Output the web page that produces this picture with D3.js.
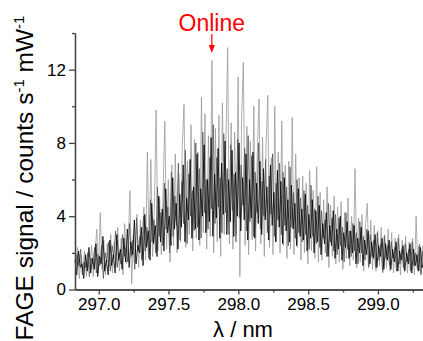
<!DOCTYPE html>
<html><head><meta charset="utf-8">
<script src="https://cdn.jsdelivr.net/npm/d3@7"></script>
<style>body{margin:0;background:#fff}svg{display:block}text{font-family:"Liberation Sans",Arial,sans-serif}</style>
</head><body><svg id="c" width="423" height="341"></svg>
<script>
// wavelength grid (nm) of each scan: start and step
const scanAStart = 296.830, scanCStart = 296.833, scanBStart = 296.836, scanStep = 0.0125;
// FAGE signal (counts s-1 mW-1), scan A (dense core)
const scanA = [
1.6,0.8,2.1,1.2,1.4,0.6,1.9,1.0,2.3,0.9,
1.7,1.1,2.5,0.7,1.8,1.4,2.9,1.0,1.6,0.8,
2.7,1.3,1.9,0.9,3.0,1.6,2.2,1.1,2.8,1.5,
3.3,1.2,2.6,1.9,3.8,1.4,2.4,2.0,3.4,1.3,
4.1,2.3,3.2,1.6,4.7,2.5,3.5,1.8,5.1,2.6,
4.4,2.1,5.5,3.1,4.0,2.4,6.1,3.3,4.7,2.2,
5.2,3.4,6.8,2.6,5.0,3.8,7.1,2.8,5.6,3.3,
7.4,2.7,5.5,4.0,7.9,3.1,6.0,3.7,8.3,2.9,
6.3,3.9,7.7,2.8,6.9,4.1,8.1,3.0,6.0,3.7,
7.6,2.9,6.4,4.0,8.0,3.2,6.1,3.8,7.4,2.7,
6.0,3.9,7.5,2.8,5.8,3.6,7.0,3.0,6.6,3.8,
5.6,2.7,6.8,3.5,5.3,2.6,6.5,3.4,5.9,2.5,
6.1,3.2,4.9,2.6,5.7,3.3,4.7,2.4,5.5,2.9,
4.4,2.7,5.2,2.1,4.1,2.8,4.9,2.0,4.3,2.6,
4.6,1.9,3.6,2.5,4.2,1.8,3.5,2.4,4.3,1.7,
3.3,2.2,4.0,1.6,3.1,2.3,3.7,1.7,3.2,2.0,
3.5,1.4,2.8,2.0,3.4,1.3,2.7,1.9,3.2,1.4,
2.6,1.7,3.0,1.2,2.4,1.8,2.8,1.1,2.5,1.6,
2.7,1.1,2.2,1.5,2.6,1.0,2.1,1.6,2.4,1.0,
2.0,1.4,2.5,0.9,2.2,1.3,1.9,1.0,2.3,1.2,
1.5];
// scan C (medium)
const scanC = [
0.9,1.9,1.3,2.2,0.8,1.5,1.2,2.0,0.7,1.7,
1.4,2.3,0.9,1.9,1.3,2.4,0.6,2.0,1.5,2.6,
1.0,2.4,1.7,3.2,1.2,2.0,1.4,3.0,1.8,2.3,
1.5,3.6,1.8,2.7,1.1,3.9,2.1,2.9,1.6,4.0,
2.1,3.4,1.7,4.9,2.6,3.8,2.0,5.6,2.9,4.2,
2.4,5.8,3.3,4.5,2.0,6.4,2.9,5.1,3.5,6.9,
2.7,5.9,3.6,7.6,2.5,6.3,4.0,5.4,3.2,8.0,
3.4,6.6,2.8,8.6,4.2,6.0,3.3,7.2,4.4,9.0,
3.6,7.2,4.5,6.1,3.1,8.5,4.2,6.6,3.0,7.9,
4.3,6.3,2.6,8.2,3.9,6.8,4.6,7.7,3.2,8.4,
3.7,7.3,2.9,6.4,4.2,8.0,3.3,5.9,4.0,7.1,
3.1,6.2,4.1,7.4,2.9,5.8,3.8,6.9,3.0,6.4,
3.5,5.6,2.4,6.7,3.4,5.3,2.8,6.0,3.1,5.0,
2.6,5.4,3.0,4.6,2.2,5.7,2.9,4.4,2.5,5.1,
2.3,4.3,2.8,3.8,1.8,4.7,2.6,3.9,2.1,4.1,
1.9,3.9,2.4,3.4,1.5,4.2,2.2,3.2,1.8,3.6,
2.1,3.1,1.4,3.7,2.0,2.9,1.6,3.3,1.2,3.0,
1.8,2.7,1.2,3.1,1.6,2.5,1.0,2.9,1.7,2.4,
1.3,2.6,1.7,2.3,1.0,2.8,1.4,2.2,1.2,2.5,
1.5,2.2,1.0,2.6,1.3,2.0,1.1,2.4,0.8,2.1,
1.6];
// scan B (spikier)
const scanB = [
1.2,2.3,0.6,1.9,1.0,2.1,0.7,1.6,1.1,2.4,
0.7,2.0,3.3,0.9,4.2,1.1,2.7,0.8,2.5,1.2,
3.0,0.9,2.6,1.3,3.4,1.0,2.8,0.8,3.6,1.4,
2.5,5.4,0.3,3.0,1.5,4.1,1.2,3.8,1.7,4.5,
1.6,7.5,2.0,7.1,1.8,4.4,9.8,2.1,5.0,1.9,
5.3,9.2,2.2,6.0,1.5,6.8,2.4,7.4,2.0,6.3,
2.6,7.8,10.1,2.3,7.0,3.0,9.0,2.1,8.2,2.8,
7.5,2.4,10.5,3.1,9.6,2.2,8.4,2.9,12.5,2.0,
8.8,2.6,9.5,1.8,10.2,3.0,8.0,13.2,2.5,9.1,
2.2,8.6,3.0,11.6,0.7,9.4,12.4,2.4,8.9,1.9,
8.1,2.7,10.0,2.1,7.6,10.4,2.5,8.3,1.8,7.9,
10.6,2.3,7.2,1.9,10.0,2.6,7.5,2.0,9.2,2.4,
6.8,1.7,7.0,2.2,9.4,1.9,7.4,2.3,6.1,1.6,
6.2,2.0,5.8,1.4,6.5,2.1,5.4,1.7,6.7,1.5,
5.3,1.6,4.9,2.0,5.6,1.2,4.6,1.8,5.1,1.4,
4.5,1.5,4.8,1.1,4.2,1.7,5.0,1.3,4.0,1.6,
6.6,1.2,3.9,1.5,4.1,1.0,3.6,4.7,1.3,3.8,
1.1,3.5,1.0,3.2,1.3,3.4,0.9,3.0,1.2,3.3,
1.0,3.1,0.9,2.8,1.2,3.0,0.8,2.7,1.1,2.9,
0.9,2.6,1.1,2.8,0.8,4.0,1.0,2.5,0.9,2.4,
1.3];
const xTicks = [297.0, 297.5, 298.0, 298.5, 299.0];
const xMinor = [297.25, 297.75, 298.25, 298.75, 299.25];
const yTicks = [0, 4, 8, 12];
const yMinor = [2, 6, 10, 14];
const onlineWavelength = 297.81;

const svg = d3.select('#c');
const x = d3.scaleLinear().domain([296.83, 299.33]).range([75, 424]);
const y = d3.scaleLinear().domain([0, 14]).range([289.5, 33]);
const axisColor = '#444';

const line = (start) => d3.line().x((d,i)=>x(start + i*scanStep)).y(d=>y(d));
svg.append('path').datum(scanB).attr('d', line(scanBStart)).attr('fill','none').attr('stroke','#9a9a9a').attr('stroke-width',0.8);
svg.append('path').datum(scanC).attr('d', line(scanCStart)).attr('fill','none').attr('stroke','#555').attr('stroke-width',0.8);
svg.append('path').datum(scanA).attr('d', line(scanAStart)).attr('fill','none').attr('stroke','#000').attr('stroke-width',0.8);

// x axis
const gx = svg.append('g').attr('transform','translate(0,289.5)');
gx.call(d3.axisBottom(x).tickValues(xTicks).tickFormat(d3.format('.1f')).tickSize(5).tickSizeOuter(0));
svg.append('g').attr('transform','translate(0,289.5)').call(d3.axisBottom(x).tickValues(xMinor).tickFormat('').tickSize(3).tickSizeOuter(0));
// y axis
const gy = svg.append('g').attr('transform','translate(75,0)');
gy.call(d3.axisLeft(y).tickValues(yTicks).tickFormat(d3.format('d')).tickSize(6).tickSizeOuter(0));
svg.append('g').attr('transform','translate(75,0)').call(d3.axisLeft(y).tickValues(yMinor).tickFormat('').tickSize(3).tickSizeOuter(0));

svg.selectAll('.domain').attr('stroke', axisColor).attr('stroke-width', 1.3);
svg.selectAll('.tick line').attr('stroke', axisColor).attr('stroke-width', 1.3);
svg.selectAll('.tick text').attr('fill','#000').style('font-size','17px').style('font-family','"Liberation Sans", Arial, sans-serif');
gx.selectAll('.tick text').attr('dy','0.9em').attr('y',5);
gy.selectAll('.tick text').attr('x',-9);

// labels
svg.append('text').attr('x',243).attr('y',336.5).attr('text-anchor','middle').style('font-size','22px').text('λ / nm');
const yl = svg.append('text').attr('transform','translate(33,178) rotate(-90)').attr('text-anchor','middle').style('font-size','24.5px');
yl.append('tspan').text('FAGE signal / counts s');
yl.append('tspan').attr('dy',-9).style('font-size','15px').text('-1');
yl.append('tspan').attr('dy',9).text(' mW');
yl.append('tspan').attr('dy',-9).style('font-size','15px').text('-1');

// Online annotation
const ox = x(onlineWavelength);
svg.append('text').attr('x',ox).attr('y',31).attr('text-anchor','middle').attr('fill','#ff0000').style('font-size','23px').text('Online');
svg.append('line').attr('x1',ox).attr('x2',ox).attr('y1',34).attr('y2',47).attr('stroke','#ff0000').attr('stroke-width',1.2);
svg.append('path').attr('d',`M${ox-3},${45} L${ox+3},${45} L${ox},${53} Z`).attr('fill','#ff0000');
</script></body></html>
